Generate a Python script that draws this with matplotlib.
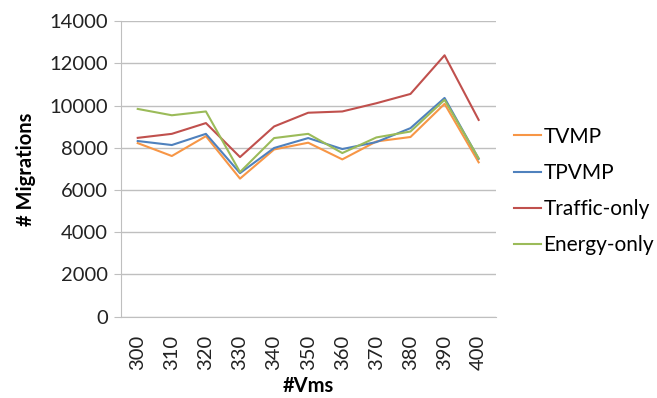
import matplotlib
matplotlib.use("Agg")
import matplotlib.pyplot as plt

vms = ["300", "310", "320", "330", "340", "350", "360", "370", "380", "390", "400"]
tvmp = [8220, 7610, 8550, 6540, 7920, 8240, 7450, 8300, 8510, 10080, 7310]
tpvmp = [8320, 8130, 8660, 6800, 7990, 8460, 7940, 8270, 8930, 10360, 7480]
traffic_only = [8470, 8660, 9170, 7560, 9010, 9660, 9720, 10110, 10550, 12380, 9320]
energy_only = [9840, 9540, 9720, 6850, 8460, 8660, 7750, 8490, 8770, 10270, 7500]

series = [
    ("TVMP", tvmp, "#F79646"),
    ("TPVMP", tpvmp, "#4F81BD"),
    ("Traffic-only", traffic_only, "#C0504D"),
    ("Energy-only", energy_only, "#9BBB59"),
]

plt.rcParams["font.family"] = ["Lato", "DejaVu Sans"]

fig = plt.figure(figsize=(6.57, 3.98), dpi=100)
ax = fig.add_axes([0.1837, 0.2043, 0.5708, 0.7427])

x = list(range(len(vms)))
for name, vals, col in series:
    ax.plot(x, vals, color=col, lw=1.5, label=name)

ax.set_xlim(-0.5, len(vms) - 0.5)
ax.set_ylim(0, 14000)
ax.set_yticks(range(0, 14001, 2000))
ax.set_xticks(x)
ax.set_xticklabels(vms, rotation=90)
ax.tick_params(axis="y", length=5, color="#BFBFBF", labelsize=14.5, pad=4)
ax.tick_params(axis="x", length=0, labelsize=14.5, pad=13)
for lab in ax.get_yticklabels() + ax.get_xticklabels():
    lab.set_color("#222222")

ax.grid(axis="y", color="#BFBFBF", lw=1)
ax.set_axisbelow(True)
for s in ["top", "right"]:
    ax.spines[s].set_visible(False)
ax.spines["left"].set_color("#BFBFBF")
ax.spines["bottom"].set_color("#BFBFBF")

ax.set_ylabel("# Migrations", fontsize=14.5, fontweight="bold", labelpad=10)
ax.set_xlabel("#Vms", fontsize=14.5, fontweight="bold", labelpad=4)

fig.legend(loc="center left", bbox_to_anchor=(0.77, 0.52), frameon=False,
           fontsize=15, handlelength=1.3, handletextpad=0.1, labelspacing=0.78,
           borderaxespad=0)

fig.savefig("out.png", dpi=100)
